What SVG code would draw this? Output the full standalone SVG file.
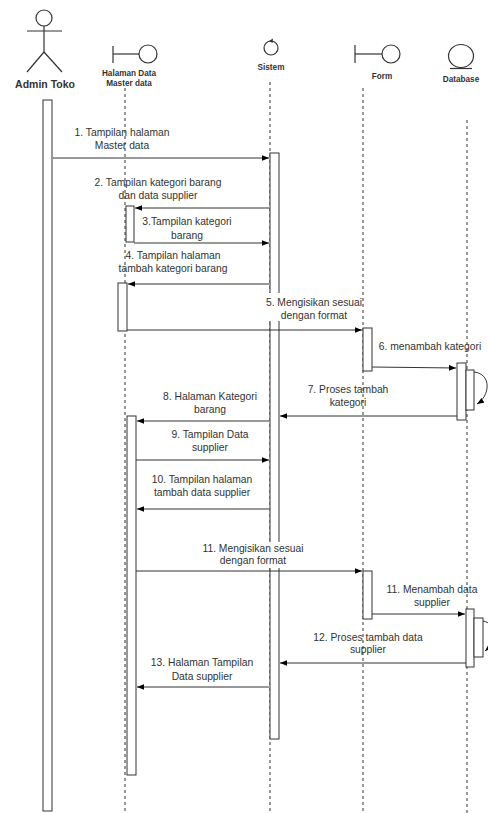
<svg xmlns="http://www.w3.org/2000/svg" width="488" height="813" viewBox="0 0 488 813">
<defs>
<style>
.life{stroke:#333;stroke-width:1;stroke-dasharray:3,3;fill:none}
.act{fill:#fff;stroke:#333;stroke-width:1}
.msg{stroke:#333;stroke-width:1;fill:none;marker-end:url(#arr)}
.lbl{font-family:"Liberation Sans",Arial,sans-serif;font-size:10.3px;fill:#333;text-anchor:middle}
.hd{font-family:"Liberation Sans",Arial,sans-serif;font-size:8.2px;font-weight:bold;fill:#333;text-anchor:middle}
.icon{fill:#fff;stroke:#333;stroke-width:1.2}
</style>
<marker id="arr" viewBox="0 0 10 10" refX="10" refY="5" markerWidth="7" markerHeight="7" markerUnits="userSpaceOnUse" orient="auto">
<path d="M0,1 L10,5 L0,9 Z" fill="#000"/>
</marker>
</defs>
<rect width="488" height="813" fill="#fff"/>

<g id="lifelines">
<line class="life" x1="125" y1="88" x2="125" y2="813"/>
<line class="life" x1="270" y1="82" x2="270" y2="813"/>
<line class="life" x1="363" y1="88" x2="363" y2="813"/>
<line class="life" x1="467" y1="120" x2="467" y2="813"/>
</g>

<g id="admin">
<circle class="icon" cx="44" cy="18" r="8"/>
<line x1="44" y1="26" x2="44" y2="52" stroke="#333" stroke-width="1.2"/>
<line x1="27" y1="31" x2="62" y2="31" stroke="#333" stroke-width="1.2"/>
<line x1="44" y1="52" x2="27" y2="72" stroke="#333" stroke-width="1.2"/>
<line x1="44" y1="52" x2="62" y2="72" stroke="#333" stroke-width="1.2"/>
<text x="45" y="88" font-family="'Liberation Sans',Arial,sans-serif" font-size="10.5" font-weight="bold" fill="#333" text-anchor="middle">Admin Toko</text>
<rect class="act" x="43" y="100" width="9" height="711"/>
</g>

<g id="halaman">
<line x1="113" y1="46" x2="113" y2="63" stroke="#333" stroke-width="1.2"/>
<line x1="113" y1="54" x2="139" y2="54" stroke="#333" stroke-width="1.2"/>
<circle class="icon" cx="148" cy="54" r="9"/>
<text class="hd" x="129" y="76">Halaman Data</text>
<text class="hd" x="129" y="86">Master data</text>
<rect class="act" x="126" y="206" width="8" height="36"/>
<rect class="act" x="118" y="283" width="9" height="48"/>
<rect class="act" x="127" y="416" width="9" height="359"/>
</g>

<g id="sistem">
<circle cx="271" cy="48" r="7" fill="#fff" stroke="#333" stroke-width="1.2"/>
<path d="M269,41 L273,38.5 L272.5,43 Z" fill="#333"/>
<text class="hd" x="271" y="70">Sistem</text>
<rect class="act" x="270" y="153" width="9" height="586"/>
</g>

<g id="form">
<line x1="355" y1="45" x2="355" y2="63" stroke="#333" stroke-width="1.2"/>
<line x1="355" y1="54" x2="382" y2="54" stroke="#333" stroke-width="1.2"/>
<circle class="icon" cx="391" cy="54" r="9"/>
<text class="hd" x="382" y="79">Form</text>
<rect class="act" x="363" y="328" width="9" height="43"/>
<rect class="act" x="363" y="571" width="9" height="48"/>
</g>

<g id="database">
<ellipse class="icon" cx="461" cy="56" rx="12.5" ry="11.5"/>
<line x1="450" y1="68.5" x2="472" y2="68.5" stroke="#333" stroke-width="1.2"/>
<text class="hd" x="461" y="82">Database</text>
<rect class="act" x="457" y="363" width="9" height="57"/>
<rect class="act" x="466" y="370" width="8" height="40"/>
<rect class="act" x="466" y="609" width="8" height="58"/>
<rect class="act" x="474" y="618" width="9" height="39"/>
</g>

<g id="connectors">
<line class="msg" x1="53" y1="158" x2="269" y2="158"/>
<line class="msg" x1="269" y1="208" x2="135" y2="208"/>
<line class="msg" x1="134" y1="243" x2="269" y2="243"/>
<line class="msg" x1="269" y1="284" x2="128" y2="284"/>
<line class="msg" x1="127" y1="330" x2="362" y2="330"/>
<line class="msg" x1="372" y1="367" x2="456" y2="368"/>
<path class="msg" d="M474,372 C492,374 490,396 477,404"/>
<line class="msg" x1="457" y1="416" x2="280" y2="416"/>
<line class="msg" x1="269" y1="421" x2="137" y2="421"/>
<line class="msg" x1="136" y1="460" x2="269" y2="460"/>
<line class="msg" x1="269" y1="509" x2="137" y2="509"/>
<line class="msg" x1="136" y1="571" x2="362" y2="571"/>
<line class="msg" x1="372" y1="614" x2="465" y2="614"/>
<path class="msg" d="M483,621 C498,624 496,642 485,651"/>
<line class="msg" x1="466" y1="663" x2="280" y2="663"/>
<line class="msg" x1="269" y1="687" x2="137" y2="687"/>
</g>

<g id="labels">
<text class="lbl" x="122" y="136">1. Tampilan halaman</text>
<text class="lbl" x="122" y="149">Master data</text>
<text class="lbl" x="158" y="186">2. Tampilan kategori barang</text>
<text class="lbl" x="158" y="199">dan data supplier</text>
<text class="lbl" x="187" y="225">3.Tampilan kategori</text>
<text class="lbl" x="187" y="239">barang</text>
<text class="lbl" x="173" y="259">4. Tampilan halaman</text>
<text class="lbl" x="173" y="272">tambah kategori barang</text>
<rect x="266" y="293" width="94" height="28" fill="#fff"/>
<text class="lbl" x="314" y="306">5. Mengisikan sesuai</text>
<text class="lbl" x="314" y="319">dengan format</text>
<text class="lbl" x="430" y="350">6. menambah kategori</text>
<text class="lbl" x="348" y="393">7. Proses tambah</text>
<text class="lbl" x="348" y="406">kategori</text>
<text class="lbl" x="210" y="400">8. Halaman Kategori</text>
<text class="lbl" x="210" y="413">barang</text>
<text class="lbl" x="210" y="438">9. Tampilan Data</text>
<text class="lbl" x="210" y="451">supplier</text>
<text class="lbl" x="202" y="483">10. Tampilan halaman</text>
<text class="lbl" x="202" y="496">tambah data supplier</text>
<rect x="204" y="542" width="98" height="26" fill="#fff"/>
<text class="lbl" x="253" y="552">11. Mengisikan sesuai</text>
<text class="lbl" x="253" y="564">dengan format</text>
<text class="lbl" x="432" y="593">11. Menambah data</text>
<text class="lbl" x="432" y="606">supplier</text>
<text class="lbl" x="368" y="641">12. Proses tambah data</text>
<text class="lbl" x="368" y="653">supplier</text>
<text class="lbl" x="202" y="666">13. Halaman Tampilan</text>
<text class="lbl" x="202" y="680">Data supplier</text>
</g>
</svg>
